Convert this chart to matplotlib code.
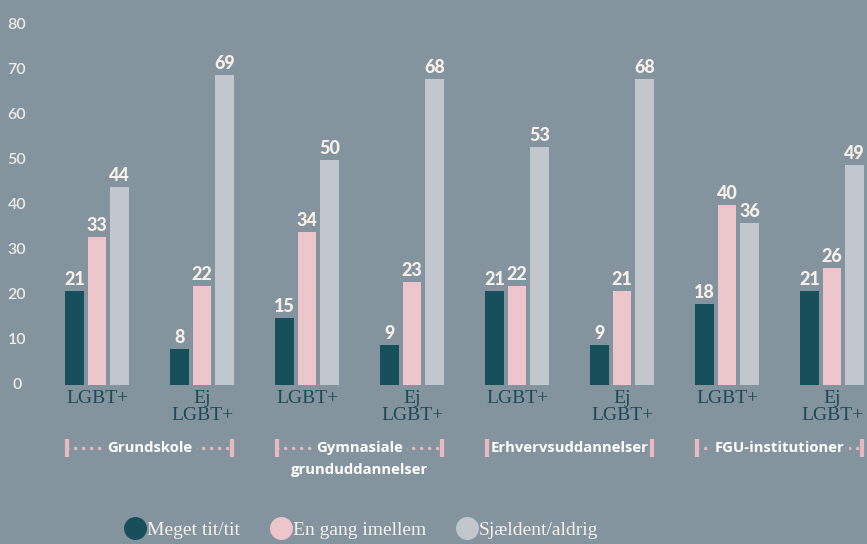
#!/usr/bin/env python3
"""Grouped bars: LGBT+ vs Ej LGBT+ per uddannelsestype."""

import matplotlib

matplotlib.use("Agg")
import matplotlib.pyplot as plt
import numpy as np
from matplotlib.lines import Line2D

# data
groups = ["LGBT+", "Ej\nLGBT+"] * 4
institutions = ["Grundskole", "Gymnasiale\ngrunduddannelser", "Erhvervsuddannelser", "FGU-institutioner"]
series_names = ["Meget tit/tit", "En gang imellem", "Sjældent/aldrig"]
meget_tit = [21, 8, 15, 9, 21, 9, 18, 21]
en_gang = [33, 22, 34, 23, 22, 21, 40, 26]
sjaeldent = [44, 69, 50, 68, 53, 68, 36, 49]
yticks = [0, 10, 20, 30, 40, 50, 60, 70, 80]

BG = "#84949e"
COLORS = ["#174f5a", "#edc6cb", "#c2c7ce"]
CREAM = "#f7f0e8"
PINK = "#e9b9c0"
TEAL_TXT = "#1b4b56"

fig = plt.figure(figsize=(8.67, 5.44), dpi=100, facecolor=BG)
ax = fig.add_axes([0, 0, 1, 1])
ax.set_facecolor(BG)
ax.set_xlim(-0.924, 7.333)
ax.set_ylim(-35.33, 85.56)
ax.axis("off")

x = np.arange(len(groups))
width = 0.176
offset = 0.215
for i, vals in enumerate([meget_tit, en_gang, sjaeldent]):
    pos = x + (i - 1) * offset
    bars = ax.bar(pos, vals, width=width, color=COLORS[i], zorder=2)
    for b, v in zip(bars, vals):
        ax.annotate(str(v), (b.get_x() + b.get_width() / 2, v), xytext=(0, 2),
                    textcoords="offset points", ha="center", va="bottom",
                    fontsize=13, fontweight="black", family="Lato", color=CREAM)

# y tick labels
for t in yticks:
    ax.text(-0.762, t, str(t), ha="center", va="center", fontsize=11.5,
            fontweight="semibold", family="Lato", color="#eeeae6")

# category labels
for xi, g in zip(x, groups):
    ax.text(xi, -1.0, g, ha="center", va="top", fontsize=14,
            family="Liberation Serif", color=TEAL_TXT, linespacing=1.0)

# institution brackets
y_br = -14.0
for k, name in enumerate(institutions):
    left = x[2 * k] - offset - width / 2 + 0.02
    right = x[2 * k + 1] + offset + width / 2 - 0.02
    mid = (left + right) / 2
    ax.plot([left, right], [y_br, y_br], color=PINK, lw=2.4,
            linestyle=(0, (0.1, 2.3)), dash_capstyle="round", zorder=1)
    for xe in (left, right):
        ax.plot([xe, xe], [y_br + 2.1, y_br - 2.1], color=PINK, lw=3,
                solid_capstyle="butt", zorder=3)
    lines = name.split("\n")
    ax.text(mid, y_br, lines[0], ha="center", va="center", fontsize=10.7,
            fontweight="bold", family="Open Sans", color="white", zorder=2,
            bbox=dict(boxstyle="square,pad=0.3", fc=BG, ec="none"))
    if len(lines) > 1:
        ax.text(mid, y_br - 4.8, lines[1], ha="center", va="center", fontsize=10.7,
                fontweight="bold", family="Open Sans", color="white")

# legend
handles = [Line2D([], [], marker="o", linestyle="none", markersize=15.5,
                  markerfacecolor=c, markeredgecolor=c) for c in COLORS]
fig.legend(handles, series_names, loc="center left", bbox_to_anchor=(0.145, 0.026),
           ncol=3, frameon=False, handletextpad=0.1, columnspacing=1.6,
           prop={"family": "Liberation Serif", "size": 14}, labelcolor=CREAM,
           handlelength=1.0, borderpad=0, borderaxespad=0)

fig.savefig("out.png", dpi=100, facecolor=BG)
plt.close(fig)
